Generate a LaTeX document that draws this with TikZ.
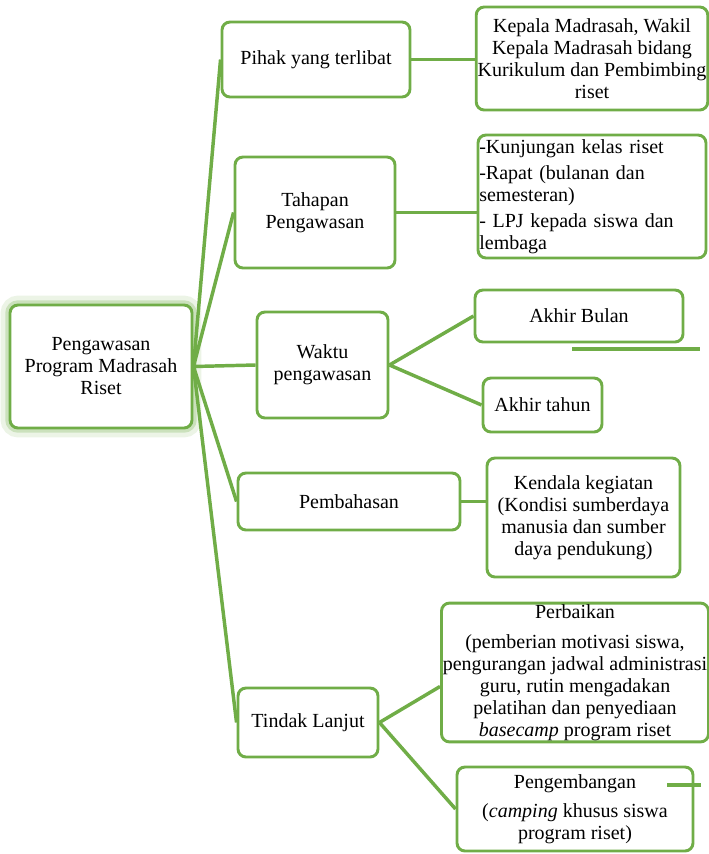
\documentclass[tikz,border=0pt]{standalone}
\usepackage{fontspec}
\setmainfont{Liberation Serif}
\usepackage{tikz}
\usetikzlibrary{calc}

\definecolor{smartgreen}{HTML}{70AD47}

\tikzset{
  box/.style={draw=smartgreen, line width=2.2pt, rounded corners=6pt, fill=white,
    align=center, inner sep=1pt, font=\fontsize{15}{16.5}\selectfont},
  link/.style={draw=smartgreen, line width=2.6pt},
}

\begin{document}
\begin{tikzpicture}[x=0.75pt,y=-0.75pt]
  \useasboundingbox (0,0) rectangle (708,854);

  %% Root box with its glow
  \node[box, minimum width=136.5pt, minimum height=92.25pt,
        preaction={draw=smartgreen!45, line width=14pt, opacity=0.3},
        preaction={draw=smartgreen!70, line width=7pt, opacity=0.4}]
    (ROOT) at (101,366.5) {Pengawasan\\Program Madrasah\\Riset};

  %% Second level boxes
  \foreach \nm/\cx/\cy/\w/\h/\txt in {
      PIHAK/316/59.5/141/56.25/{Pihak yang terlibat},
      TAHAP/315/212.5/120/83.25/{Tahapan\\Pengawasan},
      WAKTU/322.5/365/98.25/79.5/{Waktu\\pengawasan},
      BAHAS/349/501.5/166.5/42.75/{Pembahasan},
      LANJUT/308/722.5/105/51.75/{Tindak Lanjut}}
  {
    \node[box, minimum width=\w pt, minimum height=\h pt] (\nm) at (\cx,\cy) {\txt};
  }

  %% Third level boxes
  \foreach \nm/\cx/\cy/\w/\h/\txt in {
      KEPALA/592/58.5/171/77.25/{Kepala Madrasah, Wakil\\Kepala Madrasah bidang\\Kurikulum dan Pembimbing\\riset},
      BULAN/579/316/156/39/{Akhir Bulan},
      TAHUN/542.5/405/89.25/40.5/{Akhir tahun},
      KENDALA/583.5/517.5/144.75/89.25/{Kendala kegiatan\\(Kondisi sumberdaya\\manusia dan sumber\\daya pendukung)},
      PERB/575/672.5/198/101.25/{Perbaikan\\[6pt](pemberian motivasi siswa,\\pengurangan jadwal administrasi\\guru, rutin mengadakan\\pelatihan dan penyediaan\\\textit{basecamp} program riset},
      KEMBANG/575/809/177/63/{Pengembangan\\[5pt](\textit{camping} khusus siswa\\program riset)}}
  {
    \node[box, minimum width=\w pt, minimum height=\h pt] (\nm) at (\cx,\cy) {\txt};
  }
  \node[box, text width=169pt, align=left, minimum height=92.25pt] (LIST) at (592,196.5)
    {-Kunjungan kelas riset\\[3pt]-Rapat (bulanan dan\\semesteran)\\[3pt]- LPJ kepada siswa dan\\lembaga};

  %% Connectors from the root
  \foreach \n in {PIHAK,TAHAP,WAKTU,BAHAS,LANJUT}
    \draw[link] (ROOT.east) -- (\n.west);

  %% Connectors to the third level
  \draw[link] (PIHAK.east) -- (PIHAK.east -| KEPALA.west);
  \draw[link] (TAHAP.east) -- (TAHAP.east -| LIST.west);
  \draw[link] (WAKTU.east) -- (BULAN.west);
  \draw[link] (WAKTU.east) -- (TAHUN.west);
  \draw[link] (BAHAS.east) -- (BAHAS.east -| KENDALA.west);
  \draw[link] (LANJUT.east) -- ([yshift=-10.5pt]PERB.west);
  \draw[link] (LANJUT.east) -- (KEMBANG.west);

  %% Loose strokes
  \draw[link] (572,349) -- (700,349);
  \draw[link] (667,785) -- (701,785);
\end{tikzpicture}
\end{document}
